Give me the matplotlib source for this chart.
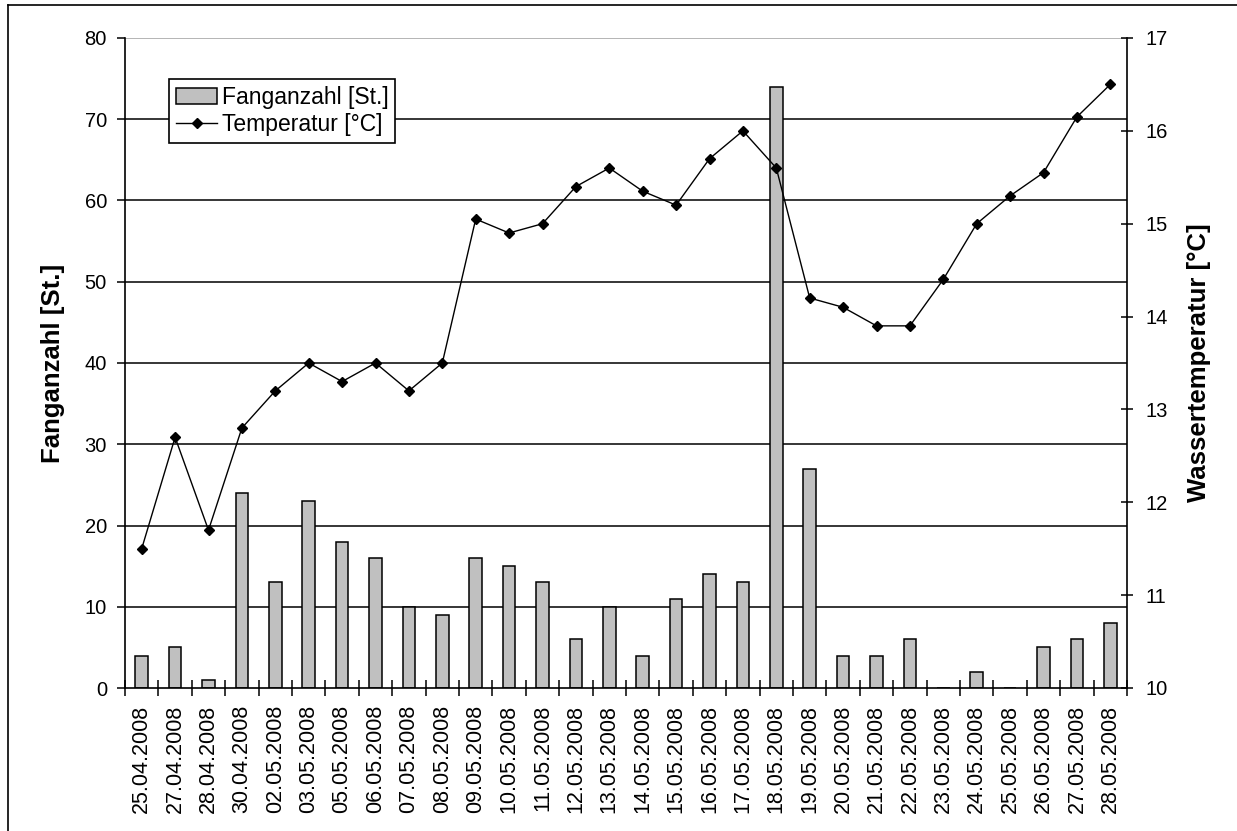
import matplotlib
matplotlib.use("Agg")
import matplotlib.pyplot as plt
from matplotlib.lines import Line2D
import numpy as np

plt.rcParams['font.family'] = ['Liberation Sans', 'DejaVu Sans']

dates = ["25.04.2008", "27.04.2008", "28.04.2008", "30.04.2008", "02.05.2008",
         "03.05.2008", "05.05.2008", "06.05.2008", "07.05.2008", "08.05.2008",
         "09.05.2008", "10.05.2008", "11.05.2008", "12.05.2008", "13.05.2008",
         "14.05.2008", "15.05.2008", "16.05.2008", "17.05.2008", "18.05.2008",
         "19.05.2008", "20.05.2008", "21.05.2008", "22.05.2008", "23.05.2008",
         "24.05.2008", "25.05.2008", "26.05.2008", "27.05.2008", "28.05.2008"]
fanganzahl = [4, 5, 1, 24, 13, 23, 18, 16, 10, 9, 16, 15, 13, 6, 10,
              4, 11, 14, 13, 74, 27, 4, 4, 6, 0, 2, 0, 5, 6, 8]
temperatur = [11.5, 12.7, 11.7, 12.8, 13.2, 13.5, 13.3, 13.5, 13.2, 13.5,
              15.05, 14.9, 15.0, 15.4, 15.6, 15.35, 15.2, 15.7, 16.0, 15.6,
              14.2, 14.1, 13.9, 13.9, 14.4, 15.0, 15.3, 15.55, 16.15, 16.5]
left_ticks = [0, 10, 20, 30, 40, 50, 60, 70, 80]
right_ticks = [10, 11, 12, 13, 14, 15, 16, 17]

W, H = 1237, 831
fig = plt.figure(figsize=(W / 100, H / 100), dpi=100)
fig.patch.set_facecolor('white')

# outer frame
fig.add_artist(Line2D([8 / W, 8 / W], [0, 1 - 5 / H], transform=fig.transFigure,
                      color='black', lw=1.2))
fig.add_artist(Line2D([8 / W, 1], [1 - 5 / H, 1 - 5 / H], transform=fig.transFigure,
                      color='black', lw=1.2))

ax = fig.add_axes([125 / W, 1 - 688 / H, (1127 - 125) / W, (688 - 38) / H])
n = len(dates)
x = np.arange(n)

ax.set_xlim(-0.5, n - 0.5)
ax.set_ylim(0, 80)

# gridlines
for v in left_ticks[1:-1]:
    ax.axhline(v, color='black', lw=1.1, zorder=1)
ax.axhline(80, color='#a0a0a0', lw=1.1, zorder=1)

ax.bar(x, fanganzahl, width=0.38, color='#c0c0c0', edgecolor='black',
       linewidth=1.1, zorder=2, label='Fanganzahl [St.]')

for s in ['top', 'right']:
    ax.spines[s].set_visible(False)
ax.spines['left'].set_linewidth(1.2)
ax.spines['bottom'].set_linewidth(1.2)

ax.set_yticks(left_ticks)
ax.tick_params(axis='y', direction='out', length=6, width=1.1, pad=7,
               labelsize=14.5)
ax.set_xticks(x)
ax.set_xticklabels(dates, rotation=90, fontsize=15.5, va='top')
ax.tick_params(axis='x', which='major', length=0, pad=12)
ax.set_xticks(np.arange(n + 1) - 0.5, minor=True)
ax.tick_params(axis='x', which='minor', direction='inout', length=11, width=1.1)

ax.set_ylabel('Fanganzahl [St.]', fontsize=18.5, fontweight='bold', labelpad=14)

ax2 = ax.twinx()
ax2.set_ylim(10, 17)
ax2.set_yticks(right_ticks)
for s in ['top', 'left', 'bottom']:
    ax2.spines[s].set_visible(False)
ax2.spines['right'].set_linewidth(1.2)
ax2.tick_params(axis='y', direction='inout', length=8, width=1.1, pad=9,
                labelsize=14.5)
ax2.plot(x, temperatur, color='black', lw=1.0, marker='D', markersize=5.5,
         zorder=5, label='Temperatur [°C]')
ax2.set_ylabel('Wassertemperatur [°C]', fontsize=18.5, fontweight='bold',
               labelpad=14)

h1, l1 = ax.get_legend_handles_labels()
h2, l2 = ax2.get_legend_handles_labels()
leg = ax2.legend(h1 + h2, l1 + l2, loc='upper left',
                 bbox_to_anchor=((169 - 125) / (1127 - 125), 1 - (79 - 38) / (688 - 38)),
                 fontsize=16.5, frameon=True, fancybox=False, framealpha=1,
                 edgecolor='black', borderpad=0.3, handlelength=1.8,
                 handletextpad=0.2, labelspacing=0.2, borderaxespad=0)
leg.get_frame().set_linewidth(1.2)

fig.savefig('out.png', dpi=100)
